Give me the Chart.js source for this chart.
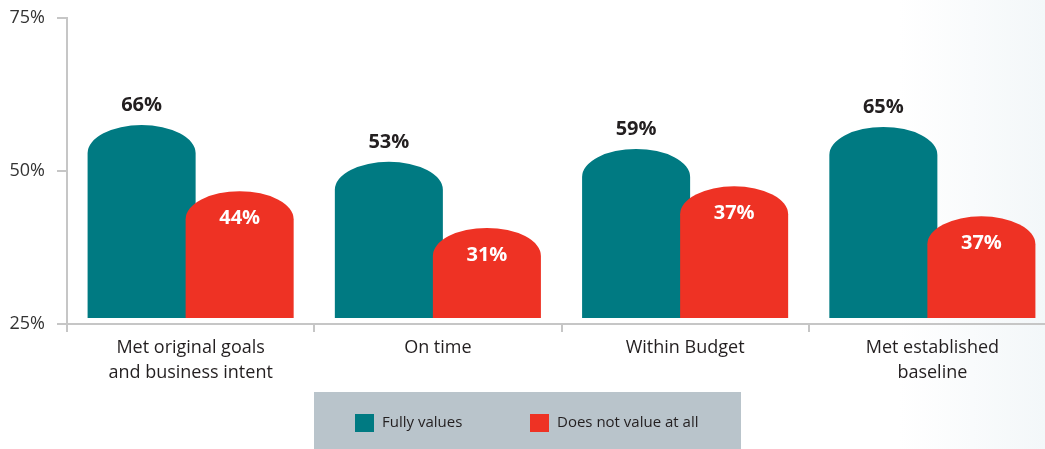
<!DOCTYPE html>
<html>
<head>
<meta charset="utf-8">
<script src="https://cdn.jsdelivr.net/npm/chart.js@4/dist/chart.umd.min.js"></script>
<style>
  html, body { margin: 0; padding: 0; overflow: hidden; background: linear-gradient(to right, #ffffff 86%, #f3f7f9); }
  #wrap { width: 1060px; height: 449px; }
</style>
</head>
<body>
<div id="wrap"><canvas id="chart" width="1060" height="449"></canvas></div>
<script>
const categories = [['Met original goals', 'and business intent'], ['On time'], ['Within Budget'], ['Met established', 'baseline']];
const seriesNames = ['Fully values', 'Does not value at all'];
// bar tops as they sit against the axis in the picture
const fullyValues = [57.5, 51.5, 53.6, 57.2];
const notValues = [46.7, 40.7, 47.5, 42.6];
// the printed percentages
const fullyLabels = ['66%', '53%', '59%', '65%'];
const notLabels = ['44%', '31%', '37%', '37%'];
const yTicks = [25, 50, 75];

const TEAL = '#007a82';
const RED = '#ee3224';
const AXIS = '#c6c6c6';
const FONT = '"Open Sans", sans-serif';

// draws the dome-topped bars and their labels
const domeBars = {
  id: 'domeBars',
  beforeDatasetDraw() { return false; },
  afterDatasetsDraw(chart) {
    const ctx = chart.ctx;
    const dome = 28;
    const labelSets = [fullyLabels, notLabels];
    chart.data.datasets.forEach((ds, di) => {
      const meta = chart.getDatasetMeta(di);
      meta.data.forEach((el) => {
        const p = el.getProps(['x', 'y', 'base', 'width'], true);
        const half = p.width / 2;
        ctx.save();
        ctx.fillStyle = ds.backgroundColor;
        ctx.beginPath();
        ctx.moveTo(p.x - half, p.base);
        ctx.lineTo(p.x - half, p.y + dome);
        ctx.ellipse(p.x, p.y + dome, half, dome, 0, Math.PI, 2 * Math.PI);
        ctx.lineTo(p.x + half, p.base);
        ctx.closePath();
        ctx.fill();
        ctx.restore();
      });
    });
    chart.data.datasets.forEach((ds, di) => {
      const meta = chart.getDatasetMeta(di);
      meta.data.forEach((el, i) => {
        const p = el.getProps(['x', 'y'], true);
        ctx.save();
        ctx.font = 'bold 20px ' + FONT;
        ctx.textAlign = 'center';
        ctx.textBaseline = 'middle';
        if (di === 0) {
          ctx.fillStyle = '#231f20';
          ctx.fillText(labelSets[0][i], p.x, p.y - 20);
        } else {
          ctx.fillStyle = '#ffffff';
          ctx.fillText(labelSets[1][i], p.x, p.y + 27);
        }
        ctx.restore();
      });
    });
  }
};

// grey legend panel under the axis
const panelLegend = {
  id: 'panelLegend',
  afterDraw(chart) {
    const ctx = chart.ctx;
    ctx.save();
    ctx.fillStyle = '#b9c4cb';
    ctx.fillRect(314, 392, 427, 57);
    const items = [
      { x: 355, text: seriesNames[0], color: TEAL },
      { x: 530, text: seriesNames[1], color: RED }
    ];
    ctx.font = '15px ' + FONT;
    ctx.textBaseline = 'middle';
    items.forEach(it => {
      ctx.fillStyle = it.color;
      ctx.fillRect(it.x, 414, 19, 18);
      ctx.fillStyle = '#231f20';
      ctx.fillText(it.text, it.x + 27, 423);
    });
    ctx.restore();
  }
};

new Chart(document.getElementById('chart'), {
  type: 'bar',
  data: {
    labels: categories,
    datasets: [
      { label: seriesNames[0], data: fullyValues, backgroundColor: TEAL, base: 26 },
      { label: seriesNames[1], data: notValues, backgroundColor: RED, base: 26 }
    ]
  },
  options: {
    responsive: false,
    animation: false,
    devicePixelRatio: 1,
    categoryPercentage: 0.793,
    barPercentage: 1.102,
    layout: { padding: { top: 18, right: 4, bottom: 0, left: 0 }, autoPadding: false },
    plugins: {
      legend: { display: false },
      tooltip: { enabled: false }
    },
    scales: {
      x: {
        offset: true,
        grid: { offset: true, drawOnChartArea: false, tickLength: 8, color: AXIS, lineWidth: 2 },
        border: { color: AXIS, width: 2 },
        ticks: { color: '#231f20', font: { family: FONT, size: 18, lineHeight: 1.4 }, padding: 3, maxRotation: 0, autoSkip: false },
        afterFit(scale) { scale.height = 125; scale.paddingLeft = 0; scale.paddingRight = 0; }
      },
      y: {
        min: 25,
        max: 75,
        afterBuildTicks(scale) { scale.ticks = yTicks.map(v => ({ value: v })); },
        grid: { drawOnChartArea: false, tickLength: 10, color: AXIS, lineWidth: 2 },
        border: { color: AXIS, width: 2 },
        ticks: { color: '#333333', font: { family: FONT, size: 18 }, padding: 12, callback: v => v + '%' },
        afterFit(scale) { scale.width = 67; scale.paddingTop = 0; scale.paddingBottom = 0; }
      }
    }
  },
  plugins: [domeBars, panelLegend]
});
</script>
</body>
</html>
